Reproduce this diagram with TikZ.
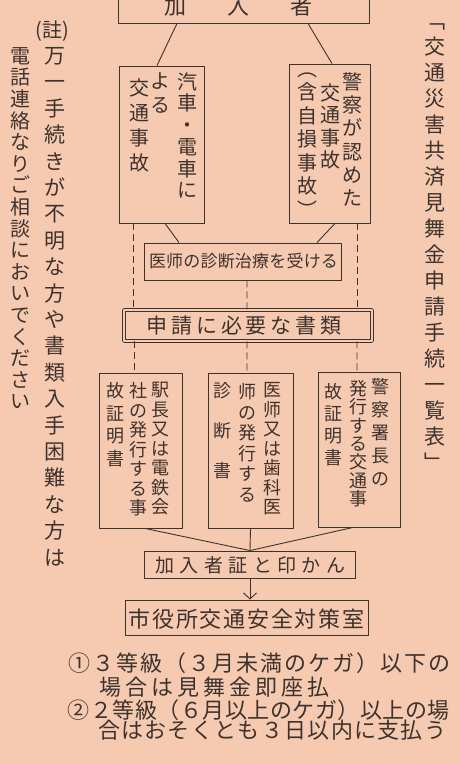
\documentclass[tikz,border=0pt]{standalone}
\usepackage{fontspec}
\usepackage{tikz}
\usetikzlibrary{arrows.meta}
\setmainfont{Noto Sans CJK JP}
\definecolor{paper}{RGB}{246,202,176}
\definecolor{ink}{RGB}{62,50,46}
\newcommand\fz[1]{\fontsize{#1}{#1}\selectfont}
\newcommand\tate[2][20bp]{\vbox{\baselineskip=#1\relax\lineskip=0pt\lineskiplimit=-\maxdimen\tatestep#2\relax}}
\def\tatestep#1{\ifx\relax#1\else\hbox to 1em{\hss#1\hss}\expandafter\tatestep\fi}
\newcommand\yoko[2][20bp]{\hbox{\def\yokopitch{#1}\yokostep#2\relax}}
\def\yokostep#1{\ifx\relax#1\else\hbox to \yokopitch{\hss#1\hss}\expandafter\yokostep\fi}

\begin{document}
\begin{tikzpicture}[>={Straight Barb[length=6bp,width=13bp]},line join=bevel,line width=0.9bp,color=ink,
  waku/.style={draw=ink,rectangle,inner sep=0pt},
  moji/.style={inner sep=0pt,text=ink},
  tensen/.style={draw=ink,dash pattern=on 7bp off 4bp}]
%%
\fill[paper] (0,0) rectangle (460bp,763bp);
\useasboundingbox (0,0) rectangle (460bp,763bp);
\node (A) at (243.5bp,766.5bp) [waku,minimum width=251bp,minimum height=53bp] {};
\node (B1) at (161.5bp,618.5bp) [waku,minimum width=85bp,minimum height=157bp] {};
\node (B2) at (329.5bp,619.5bp) [waku,minimum width=81bp,minimum height=159bp] {};
\node (C) at (242.5bp,501.5bp) [waku,minimum width=197bp,minimum height=37bp] {};
\node (S) at (248bp,437.5bp) [waku,double=paper,double distance=2.4bp,minimum width=248bp,minimum height=31bp] {};
\node (D1) at (140.5bp,312.5bp) [waku,minimum width=83bp,minimum height=155bp] {};
\node (D2) at (250.5bp,312.5bp) [waku,minimum width=85bp,minimum height=155bp] {};
\node (D3) at (359bp,313.5bp) [waku,minimum width=82bp,minimum height=155bp] {};
\node (E) at (249.5bp,198.5bp) [waku,minimum width=211bp,minimum height=27bp] {};
\node (F) at (246.5bp,145.5bp) [waku,minimum width=243bp,minimum height=35bp] {};
\coordinate (M) at ([xshift=0.5bp]E.north);
  % texts
  \node (At) at (238.5bp,757bp) [moji,font=\fz{22bp}] {\yoko[63bp]{加入者}};
  \node (B1a) at (187bp,691bp) [moji,anchor=north,font=\fz{20bp}] {\tate[21.7bp]{汽車・電車に}};
  \node (B1b) at (160bp,691bp) [moji,anchor=north,font=\fz{20bp}] {\tate[24bp]{よる}};
  \node (B1c) at (139bp,685bp) [moji,anchor=north,font=\fz{20bp}] {\tate[25bp]{交通事故}};
  \node (B2a) at (352bp,691bp) [moji,anchor=north,font=\fz{20bp}] {\tate[23.3bp]{警察が認めた}};
  \node (B2b) at (330bp,680bp) [moji,anchor=north,font=\fz{20bp}] {\tate[22.5bp]{交通事故}};
  \node (B2c) at (307bp,691bp) [moji,anchor=north,font=\fz{20bp}] {\tate[23.5bp]{︵含自損事故︶}};
  \node (Ct) at (243.5bp,501.5bp) [moji,font=\fz{17bp}] {\yoko[17.2bp]{医师の診断治療を受ける}};
  \node (St) at (244bp,437bp) [moji,font=\fz{21bp}] {\yoko[24.75bp]{申請に必要な書類}};
  \node (D1a) at (160bp,381bp) [moji,anchor=north,font=\fz{18bp}] {\tate[19.5bp]{駅長又は電鉄会}};
  \node (D1b) at (138bp,381bp) [moji,anchor=north,font=\fz{18bp}] {\tate[19.5bp]{社の発行する事}};
  \node (D1c) at (115bp,381bp) [moji,anchor=north,font=\fz{18bp}] {\tate[22.5bp]{故証明書}};
  \node (D2a) at (272bp,381bp) [moji,anchor=north,font=\fz{18bp}] {\tate[19.5bp]{医师又は歯科医}};
  \node (D2b) at (247bp,380bp) [moji,anchor=north,font=\fz{18bp}] {\tate[20.5bp]{师の発行する}};
  \node (D2c) at (222bp,381bp) [moji,anchor=north,font=\fz{18bp}] {\tate[40bp]{診断書}};
  \node (D3a) at (380bp,385bp) [moji,anchor=north,font=\fz{18bp}] {\tate[23bp]{警察署長の}};
  \node (D3b) at (358bp,383bp) [moji,anchor=north,font=\fz{18bp}] {\tate[18.3bp]{発行する交通事}};
  \node (D3c) at (333bp,380bp) [moji,anchor=north,font=\fz{18bp}] {\tate[22bp]{故証明書}};
  \node (Et) at (250.5bp,198bp) [moji,font=\fz{19bp}] {\yoko[24.4bp]{加入者証と印かん}};
  \node (Ft) at (246.5bp,144bp) [moji,font=\fz{22bp}] {\yoko[23.7bp]{市役所交通安全対策室}};
  \node (N1) at (67bp,100bp) [moji,anchor=west,font=\fz{22bp}] {\yoko[24bp]{①３等級（３月未満のケガ）以下の}};
  \node (N2) at (97bp,76bp) [moji,anchor=west,font=\fz{22bp}] {\yoko[26bp]{場合は見舞金即座払}};
  \node (N3) at (67bp,53bp) [moji,anchor=west,font=\fz{22bp}] {\yoko[22.5bp]{②２等級（６月以上のケガ）以上の場}};
  \node (N4) at (97bp,33bp) [moji,anchor=west,font=\fz{22bp}] {\yoko[23.3bp]{合はおそくとも３日以内に支払う}};
  \node (Chu) at (52bp,732bp) [moji,font=\fz{20bp}] {(註)};
  \node (L1) at (55bp,716bp) [moji,anchor=north,font=\fz{21bp}] {\tate[26.4bp]{万一手続きが不明な方や書類入手困難な方は}};
  \node (L2) at (20bp,716bp) [moji,anchor=north,font=\fz{20bp}] {\tate[21.6bp]{電話連絡なりご相談においでください}};
  \node (T) at (435bp,740bp) [moji,anchor=north,font=\fz{21bp}] {\tate[26bp]{﹁交通災害共済見舞金申請手続一覧表﹂}};
  % lines
  \draw ([xshift=-66.5bp]A.south) -- ([xshift=-4.5bp]B1.north);
  \draw ([xshift=64.5bp]A.south) -- ([xshift=2.5bp]B2.north);
  \draw ([xshift=3.5bp]B1.south) -- ([xshift=-63.5bp]C.north);
  \draw ([xshift=5.5bp]B2.south) -- ([xshift=74.5bp]C.north);
  \draw [tensen] ([xshift=-28.5bp]B1.south) -- ([xshift=-115bp]S.north);
  \draw [tensen] ([xshift=27.5bp]B2.south) -- ([xshift=109bp]S.north);
  \draw [tensen] ([xshift=4.5bp]C.south) -- ([xshift=-1bp]S.north);
  \draw [tensen] ([xshift=-114bp]S.south) -- ([xshift=-6.5bp]D1.north);
  \draw [tensen] ([xshift=-1bp]S.south) -- ([xshift=-3.5bp]D2.north);
  \draw [tensen] ([xshift=109bp]S.south) -- ([xshift=-2bp]D3.north);
  \draw ([xshift=4.5bp]D1.south) -- (M);
  \draw (D2.south) -- (M);
  \draw ([xshift=-6bp]D3.south) -- (M);
  \draw [->] ([xshift=0.5bp]E.south) -- ([xshift=3.5bp]F.north);
%
\end{tikzpicture}
\end{document}
